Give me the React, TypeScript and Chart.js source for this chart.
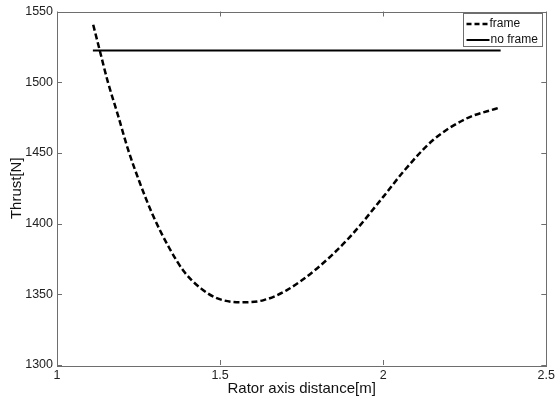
import React, { useEffect, useRef } from "react";
import { Chart, registerables } from "chart.js";

Chart.register(...registerables);

const FONT = "'Liberation Sans', Arial, sans-serif";

// "frame" series (dashed)
const frameX = [1.111, 1.131, 1.156, 1.187, 1.217, 1.253, 1.294, 1.345, 1.39, 1.441, 1.492, 1.563, 1.634, 1.705, 1.797, 1.898, 2.0, 2.061, 2.152, 2.254, 2.351];
const frameY = [1540.6, 1522.5, 1500.1, 1476.6, 1453.0, 1429.4, 1405.9, 1382.4, 1365.9, 1354.2, 1347.1, 1344.3, 1345.9, 1353.0, 1368.3, 1390.6, 1418.9, 1436.5, 1458.9, 1474.2, 1481.7];

// "no frame" series (solid)
const noFrameX = [1.11, 2.36];
const noFrameY = [1522.5, 1522.5];

const xTicks = [1, 1.5, 2, 2.5];
const yTicks = [1300, 1350, 1400, 1450, 1500, 1550];

const seriesNames = ["frame", "no frame"];

const BOX = "#6e6e6e";

const framePlugin = {
  id: "matlabFrame",
  afterDraw(chart: any) {
    const { ctx, chartArea } = chart;
    const { left, right, top, bottom } = chartArea;
    const xs = chart.scales.x;
    const ys = chart.scales.y;
    ctx.save();
    ctx.strokeStyle = BOX;
    ctx.lineWidth = 1;
    ctx.setLineDash([]);
    ctx.strokeRect(Math.round(left) + 0.5, Math.round(top) + 0.5, Math.round(right - left), Math.round(bottom - top));
    const L = 5;
    ctx.beginPath();
    xTicks.forEach((v) => {
      const px = Math.round(xs.getPixelForValue(v)) + 0.5;
      ctx.moveTo(px, bottom);
      ctx.lineTo(px, bottom - L);
      ctx.moveTo(px, top);
      ctx.lineTo(px, top + L);
    });
    yTicks.forEach((v) => {
      const py = Math.round(ys.getPixelForValue(v)) + 0.5;
      ctx.moveTo(left, py);
      ctx.lineTo(left + L, py);
      ctx.moveTo(right, py);
      ctx.lineTo(right - L, py);
    });
    ctx.stroke();

    // legend
    const bx = Math.round(right) - 82.5;
    const by = Math.round(top) + 1.5;
    const bw = 79;
    const bh = 33;
    ctx.fillStyle = "#fff";
    ctx.fillRect(bx, by, bw, bh);
    ctx.strokeStyle = BOX;
    ctx.lineWidth = 1;
    ctx.strokeRect(bx, by, bw, bh);
    const rows = [by + 10.5, by + 26.5];
    ctx.strokeStyle = "#000";
    ctx.lineWidth = 2.5;
    ctx.setLineDash([5, 3]);
    ctx.beginPath();
    ctx.moveTo(bx + 3, rows[0]);
    ctx.lineTo(bx + 25, rows[0]);
    ctx.stroke();
    ctx.setLineDash([]);
    ctx.lineWidth = 2;
    ctx.beginPath();
    ctx.moveTo(bx + 3, rows[1]);
    ctx.lineTo(bx + 26, rows[1]);
    ctx.stroke();
    ctx.fillStyle = "#111";
    ctx.font = `12px ${FONT}`;
    ctx.textBaseline = "middle";
    ctx.textAlign = "left";
    ctx.fillText(seriesNames[0], bx + 26, rows[0]);
    ctx.fillText(seriesNames[1], bx + 27, rows[1]);
    ctx.restore();
  },
};

export default function App() {
  const ref = useRef<HTMLCanvasElement>(null);
  useEffect(() => {
    const chart = new Chart(ref.current!, {
      type: "line",
      data: {
        datasets: [
          {
            label: seriesNames[0],
            data: frameX.map((x, i) => ({ x, y: frameY[i] })),
            borderColor: "#000",
            borderWidth: 2.5,
            borderDash: [6, 3],
            pointRadius: 0,
            cubicInterpolationMode: "monotone",
            fill: false,
          },
          {
            label: seriesNames[1],
            data: noFrameX.map((x, i) => ({ x, y: noFrameY[i] })),
            borderColor: "#000",
            borderWidth: 2,
            pointRadius: 0,
            fill: false,
          },
        ],
      },
      options: {
        animation: false,
        responsive: false,
        layout: { padding: { top: 11, right: 9, left: 0, bottom: 0 } },
        plugins: { legend: { display: false }, tooltip: { enabled: false } },
        scales: {
          x: {
            type: "linear",
            min: 1,
            max: 2.5,
            afterBuildTicks: (s: any) => {
              s.ticks = xTicks.map((v) => ({ value: v }));
            },
            afterFit: (s: any) => {
              s.height = 35;
            },
            ticks: {
              font: { family: FONT, size: 12.5 },
              color: "#222",
              padding: 3,
              callback: (v: any) => String(v),
            },
            grid: { display: false, drawTicks: false },
            border: { display: false },
            title: {
              display: true,
              text: "Rator axis distance[m]",
              font: { family: FONT, size: 15 },
              color: "#111",
              padding: { top: 0, bottom: 2 },
            },
          },
          y: {
            type: "linear",
            min: 1300,
            max: 1550,
            afterBuildTicks: (s: any) => {
              s.ticks = yTicks.map((v) => ({ value: v }));
            },
            afterFit: (s: any) => {
              s.width = 57;
            },
            ticks: {
              font: { family: FONT, size: 12.5 },
              color: "#222",
              padding: 4,
              callback: (v: any) => String(v),
            },
            grid: { display: false, drawTicks: false },
            border: { display: false },
            title: {
              display: true,
              text: "Thrust[N]",
              font: { family: FONT, size: 15 },
              color: "#111",
              padding: { top: 8, bottom: 0 },
            },
          },
        },
      },
      plugins: [framePlugin],
    });
    return () => chart.destroy();
  }, []);
  return (
    <div style={{ position: "absolute", left: 0, top: 0, width: 558, height: 400, background: "#fff" }}>
      <canvas ref={ref} width={558} height={400} />
    </div>
  );
}
